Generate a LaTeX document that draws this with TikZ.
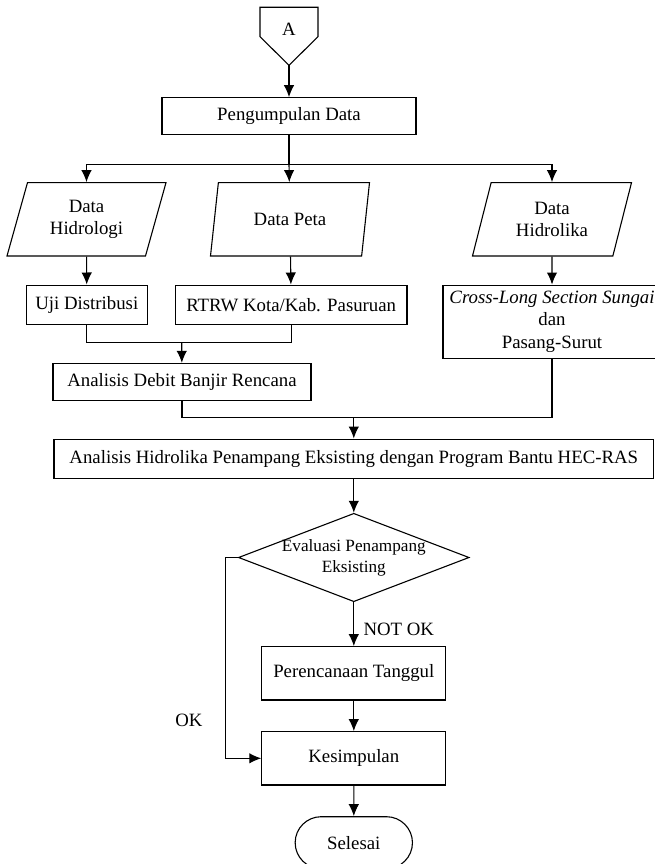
\documentclass[tikz,border=0pt]{standalone}
\usepackage{fontspec}
\setmainfont{Liberation Serif}
\usetikzlibrary{arrows.meta,shapes.geometric,shapes.misc}

\begin{document}
\begin{tikzpicture}[x=1pt,y=-1pt,line width=1.1pt]
    \tikzstyle{every node}=[font=\fontsize{18.8}{22.6}\selectfont,inner sep=2pt,align=center]
    \tikzstyle{proc}=[draw,rectangle]
    \tikzstyle{io}=[draw,trapezium,trapezium left angle=64.5,trapezium right angle=115.5,trapezium stretches body,minimum width=159pt,minimum height=73.3pt]
    \tikzstyle{decision}=[draw,diamond,minimum width=230.7pt,minimum height=88.4pt,inner sep=0pt,font=\fontsize{17.2}{21}\selectfont]
    \tikzstyle{term}=[draw,rounded rectangle,minimum width=121.3pt,minimum height=52pt]
    \tikzstyle{arr}=[-{Latex[length=12pt,width=10.5pt]}]
    \useasboundingbox (0,0) rectangle (655,864);
    \draw (289,29) node (conA) {A};
    \draw (260,7.3) -- (318,7.3) -- (318,36.7) -- (289,65.3) -- (260,36.7) -- cycle;
    \coordinate (tipA) at (289,65.3);
    \draw (289,116) node[proc,minimum width=254pt,minimum height=36.6pt] (peng) {Pengumpulan Data};
    \draw (86.5,219.3) node[io] (hidrologi) {Data\\Hidrologi};
    \draw (290,219.3) node[io] (peta) {Data Peta};
    \draw (552,219.3) node[io] (hidrolika) {Data\\Hidrolika};
    \draw (86.8,304.7) node[proc,minimum width=121.5pt,minimum height=39.3pt] (uji) {Uji Distribusi};
    \draw (291.2,304.7) node[proc,minimum width=231.6pt,minimum height=39.3pt] (rtrw) {RTRW Kota/Kab. Pasuruan};
    \draw (552,321.7) node[proc,minimum width=218pt,minimum height=73.3pt] (cross) {\textit{Cross-Long Section Sungai}\\dan\\Pasang-Surut};
    \draw (182,381.7) node[proc,minimum width=258pt,minimum height=36.7pt] (debit) {Analisis Debit Banjir Rencana};
    \draw (353.8,458.7) node[proc,minimum width=599.7pt,minimum height=39.3pt] (hecras) {Analisis Hidrolika Penampang Eksisting dengan Program Bantu HEC-RAS};
    \draw (353.8,557.5) node[decision] (eval) {\makebox[0pt]{\begin{tabular}{@{}c@{}}Evaluasi Penampang\\Eksisting\end{tabular}}};
    \draw (353.8,673.3) node[proc,minimum width=184pt,minimum height=53.3pt] (tanggul) {Perencanaan Tanggul};
    \draw (353.8,758.3) node[proc,minimum width=184pt,minimum height=53.3pt] (simpul) {Kesimpulan};
    \draw (353.8,842.7) node[term] (selesai) {Selesai};
    \draw (361,629) node[anchor=west] (notok) {NOT OK};
    \draw (189,720) node (ok) {OK};
    \coordinate (split) at (289,164.3);
    \coordinate (join1) at (181.7,342.7);
    \coordinate (join2) at (353.8,417.7);
    \coordinate (okturn) at (225.6,557.5);
    \draw[arr] (tipA) -- (peng);
    \draw (peng) -- (split);
    \draw[arr] (split) -| (hidrologi);
    \draw[arr] (split) -- (peta);
    \draw[arr] (split) -| (hidrolika);
    \draw[arr] (hidrologi) -- (uji);
    \draw[arr] (peta) -- (rtrw);
    \draw[arr] (hidrolika) -- (cross);
    \draw (uji) |- (join1);
    \draw (rtrw) |- (join1);
    \draw[arr] (join1) -- (debit);
    \draw (debit) |- (join2);
    \draw (cross) |- (join2);
    \draw[arr] (join2) -- (hecras);
    \draw[arr] (hecras) -- (eval);
    \draw[arr] (eval) -- (tanggul);
    \draw[arr] (tanggul) -- (simpul);
    \draw[arr] (simpul) -- (selesai);
    \draw[arr] (eval.west) -- (okturn) |- (simpul.west);
\end{tikzpicture}
\end{document}
